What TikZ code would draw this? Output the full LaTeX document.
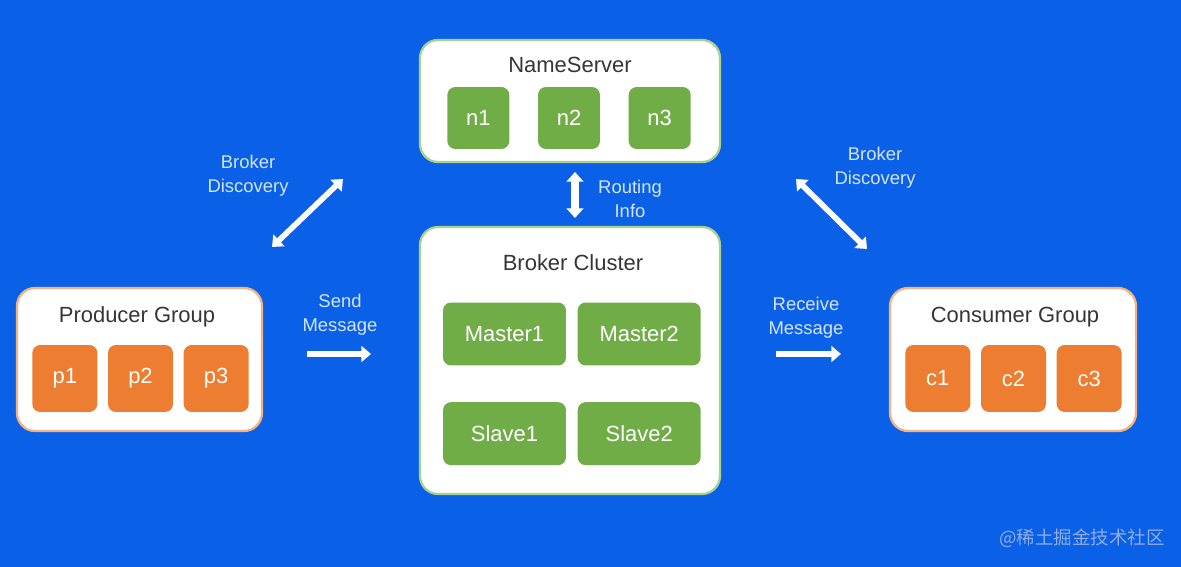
\documentclass[tikz,border=0pt]{standalone}
\usepackage{fontspec}
\setmainfont{Liberation Sans}
\newfontfamily\cjk{Noto Sans CJK SC}
\usetikzlibrary{arrows.meta,positioning}
\definecolor{bgblue}{HTML}{0A60E6}
\definecolor{mqgreen}{HTML}{70AD47}
\definecolor{mqorange}{HTML}{ED7D31}
\definecolor{greenline}{HTML}{A9D18E}
\definecolor{orangeline}{HTML}{F4B183}
\definecolor{titlegray}{HTML}{363636}
\definecolor{labelblue}{HTML}{D3E4FF}
\definecolor{wmark}{HTML}{8DAEE6}
\tikzset{
  group/.style={draw, line width=1.3pt, fill=white, rounded corners=0.36cm},
  grouptitle/.style={text=titlegray, font=\fontsize{12.5}{15}\selectfont},
  member/.style={rounded corners=0.16cm, text=white, inner sep=0pt,
    font=\fontsize{12.5}{15}\selectfont},
  nsnode/.style={member, fill=mqgreen, minimum width=1.24cm, minimum height=1.24cm},
  brokernode/.style={member, fill=mqgreen, minimum width=2.46cm, minimum height=1.26cm},
  clientnode/.style={member, fill=mqorange, minimum width=1.3cm, minimum height=1.34cm},
  flowlabel/.style={text=labelblue, align=center, font=\fontsize{10.5}{13.6}\selectfont},
  oneway/.style={white, line width=3.2pt, -{Triangle[width=9pt,length=5.5pt]}},
  twoway/.style={white, line width=3.2pt,
    {Triangle[width=9pt,length=5.5pt]}-{Triangle[width=9pt,length=5.5pt]}},
  fatway/.style={white, line width=4pt,
    {Triangle[width=9.5pt,length=5.5pt]}-{Triangle[width=9.5pt,length=5.5pt]}}
}
\begin{document}
\begin{tikzpicture}[x=0.02cm,y=-0.02cm]
\fill[bgblue] (0,0) rectangle (1181,567);
\useasboundingbox (0,0) rectangle (1181,567);
% name server
\node[group, draw=greenline, minimum width=6cm, minimum height=2.44cm] (nsbox) at (570,101) {};
\node[grouptitle] (nstitle) at (570,65) {NameServer};
\node[nsnode] (n2) at (569,118) {n2};
\node[nsnode, left=0.56cm of n2] (n1) {n1};
\node[nsnode, right=0.56cm of n2] (n3) {n3};
% broker cluster
\node[group, draw=greenline, minimum width=6cm, minimum height=5.34cm] (bcbox) at (570,360.5) {};
\node[grouptitle] (bctitle) at (573,263) {Broker Cluster};
\node[brokernode] (m1) at (504.5,334) {Master1};
\node[brokernode, right=0.22cm of m1] (m2) {Master2};
\node[brokernode, below=0.72cm of m1] (s1) {Slave1};
\node[brokernode, below=0.72cm of m2] (s2) {Slave2};
% producers
\node[group, draw=orangeline, minimum width=4.9cm, minimum height=2.86cm] (pgbox) at (139.5,359.5) {};
\node[grouptitle] (pgtitle) at (137,317) {Producer Group};
\node[clientnode] (p2) at (140.5,378.5) {p2};
\node[clientnode, left=0.2cm of p2] (p1) {p1};
\node[clientnode, right=0.2cm of p2] (p3) {p3};
% consumers
\node[group, draw=orangeline, minimum width=4.92cm, minimum height=2.86cm] (cgbox) at (1013,359.5) {};
\node[grouptitle] (cgtitle) at (1015,317) {Consumer Group};
\node[clientnode] (c2) at (1013.5,378.5) {c2};
\node[clientnode, left=0.2cm of c2] (c1) {c1};
\node[clientnode, right=0.2cm of c2] (c3) {c3};
% arrows
\coordinate (rtop) at (575,172);
\coordinate (rbot) at (575,218);
\coordinate (sendl) at (307,354);
\coordinate (sendr) at (371,354);
\coordinate (recvl) at (776,354);
\coordinate (recvr) at (841,354);
\coordinate (pdlow) at (272,247);
\coordinate (pdup) at (343,179);
\coordinate (cdup) at (796,179);
\coordinate (cdlow) at (867,249);
\draw[fatway] (rtop) -- (rbot);
\draw[oneway] (sendl) -- (sendr);
\draw[oneway] (recvl) -- (recvr);
\draw[twoway] (pdlow) -- (pdup);
\draw[twoway] (cdup) -- (cdlow);
\node[flowlabel] (rlabel) at (630,199) {Routing\\Info};
\node[flowlabel] (slabel) at (340,315) {Send\\Message};
\node[flowlabel] (clabel) at (806,318) {Receive\\Message};
\node[flowlabel] (pdlabel) at (248,176) {Broker\\Discovery};
\node[flowlabel] (cdlabel) at (875,168) {Broker\\Discovery};
\node[text=wmark, font=\cjk\fontsize{10.5}{12}\selectfont] (mark) at (1082,538) {@稀土掘金技术社区};
\end{tikzpicture}
\end{document}
